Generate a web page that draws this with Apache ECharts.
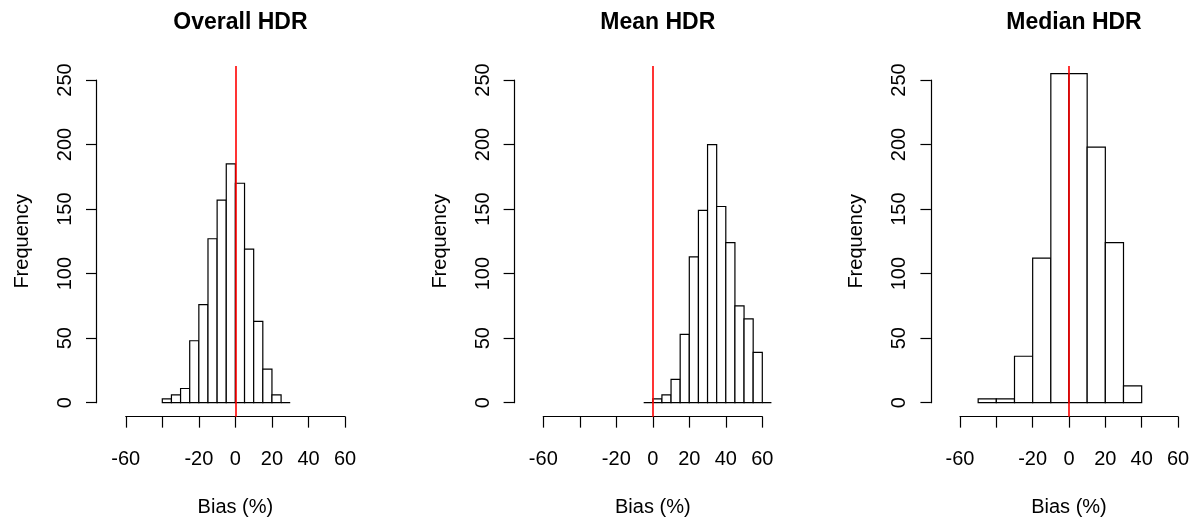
<!DOCTYPE html>
<html>
<head>
<meta charset="utf-8">
<script src="https://cdn.jsdelivr.net/npm/echarts@6/dist/echarts.min.js"></script>
<style>
  html, body { margin: 0; padding: 0; background: #ffffff; }
  #chart { width: 1196px; height: 521px; }
</style>
</head>
<body>
<div id="chart"></div>
<script>
// Histogram bins: lower edge of each bin, bin width and count per bin
const overallBinStarts = [-40, -35, -30, -25, -20, -15, -10, -5, 0, 5, 10, 15, 20, 25];
const overallCounts    = [3, 6, 11, 48, 76, 127, 157, 185, 170, 119, 63, 26, 6, 0];
const overallBinWidth  = 5;

const meanBinStarts = [-5, 0, 5, 10, 15, 20, 25, 30, 35, 40, 45, 50, 55, 60];
const meanCounts    = [0, 3, 6, 18, 53, 113, 149, 200, 152, 124, 75, 65, 39, 0];
const meanBinWidth  = 5;

const medianBinStarts = [-50, -40, -30, -20, -10, 0, 10, 20, 30];
const medianCounts    = [3, 3, 36, 112, 255, 255, 198, 124, 13];
const medianBinWidth  = 10;

const panelTitles = ['Overall HDR', 'Mean HDR', 'Median HDR'];
const xAxisTitle = 'Bias (%)';
const yAxisTitle = 'Frequency';
const xTickValues = [-60, -40, -20, 0, 20, 40, 60];
const xTickLabels = ['-60', '', '-20', '0', '20', '40', '60']; // -40 left out, too crowded
const yTickValues = [0, 50, 100, 150, 200, 250];
const referenceBias = 0;

// ---- layout (pixels) ----
const FONT = 'Liberation Sans, Arial, Helvetica, sans-serif';
const panelLayout = [
  { zeroX: 235.4, unit: 1.8275 },
  { zeroX: 652.8, unit: 1.825 },
  { zeroX: 1069.0, unit: 1.8167 }
];
const yZero = 402.7;     // pixel row of count 0
const yUnit = 1.2908;    // pixels per count
const plotXMin = -76, plotXMax = 66;
const plotYMin = -10.8, plotYMax = 260.8;

const panelData = [
  { starts: overallBinStarts, counts: overallCounts, width: overallBinWidth },
  { starts: meanBinStarts, counts: meanCounts, width: meanBinWidth },
  { starts: medianBinStarts, counts: medianCounts, width: medianBinWidth }
];

const grid = [], xAxis = [], yAxis = [], series = [], title = [];
const axisLineStyle = { color: '#000', width: 1.2 };
const labelStyle = { color: '#000', fontFamily: FONT, fontSize: 20 };

panelLayout.forEach((p, i) => {
  const plotLeft = p.zeroX + plotXMin * p.unit;
  const plotTop = yZero - plotYMax * yUnit;
  const plotBottom = yZero - plotYMin * yUnit;

  // plot region: bars and reference line
  const gA = grid.length;
  grid.push({ left: plotLeft, top: plotTop, width: (plotXMax - plotXMin) * p.unit,
              height: plotBottom - plotTop, containLabel: false, outerBoundsMode: 'none' });
  xAxis.push({ gridIndex: gA, type: 'value', min: plotXMin, max: plotXMax, show: false });
  yAxis.push({ gridIndex: gA, type: 'value', min: plotYMin, max: plotYMax, show: false });

  // bottom axis spanning the tick range
  const gB = grid.length;
  const axisTop = 300;
  grid.push({ left: p.zeroX + xTickValues[0] * p.unit,
              width: (xTickValues[xTickValues.length - 1] - xTickValues[0]) * p.unit,
              top: axisTop, height: plotBottom - axisTop, outerBoundsMode: 'none' });
  xAxis.push({
    gridIndex: gB, type: 'value', min: xTickValues[0], max: xTickValues[xTickValues.length - 1],
    interval: 20,
    axisLine: { show: true, onZero: false, lineStyle: axisLineStyle },
    axisTick: { show: true, inside: false, length: 11, lineStyle: axisLineStyle },
    axisLabel: {
      show: true, margin: 33, ...labelStyle,
      formatter: v => xTickLabels[xTickValues.indexOf(v)] ?? ''
    },
    splitLine: { show: false },
    name: xAxisTitle, nameLocation: 'middle', nameGap: 81,
    nameTextStyle: labelStyle
  });
  yAxis.push({ gridIndex: gB, type: 'value', min: 0, max: 1, show: false });

  // left axis spanning 0..250
  const gC = grid.length;
  const yTop = yZero - yTickValues[yTickValues.length - 1] * yUnit;
  grid.push({ left: plotLeft, width: 20, top: yTop, height: yZero - yTop, outerBoundsMode: 'none' });
  xAxis.push({ gridIndex: gC, type: 'value', min: 0, max: 1, show: false });
  yAxis.push({
    gridIndex: gC, type: 'value', min: yTickValues[0], max: yTickValues[yTickValues.length - 1],
    interval: 50,
    axisLine: { show: true, onZero: false, lineStyle: axisLineStyle },
    axisTick: { show: true, inside: false, length: 10.5, lineStyle: axisLineStyle },
    axisLabel: { show: true, rotate: 90, margin: 21, ...labelStyle },
    splitLine: { show: false },
    name: yAxisTitle, nameLocation: 'middle', nameGap: 64,
    nameTextStyle: labelStyle
  });

  const d = panelData[i];
  series.push({
    type: 'custom',
    xAxisIndex: gA, yAxisIndex: gA,
    silent: true,
    animation: false,
    data: d.starts.map((s, k) => [s, s + d.width, d.counts[k]]),
    encode: { x: [0, 1], y: 2 },
    renderItem: (params, api) => {
      const topLeft = api.coord([api.value(0), api.value(2)]);
      const bottomRight = api.coord([api.value(1), 0]);
      return {
        type: 'rect',
        shape: { x: topLeft[0], y: topLeft[1],
                 width: bottomRight[0] - topLeft[0], height: bottomRight[1] - topLeft[1] },
        style: { fill: '#ffffff', stroke: '#000000', lineWidth: 1.2 }
      };
    }
  });
  series.push({
    type: 'line',
    xAxisIndex: gA, yAxisIndex: gA,
    data: [],
    silent: true,
    animation: false,
    z: 5,
    markLine: {
      silent: true, animation: false,
      symbol: ['none', 'none'],
      label: { show: false },
      lineStyle: { color: '#ff0000', width: 1.6, type: 'solid' },
      data: [{ xAxis: referenceBias }]
    }
  });

  title.push({
    text: panelTitles[i],
    left: p.zeroX, top: 6, textAlign: 'center',
    textStyle: { fontFamily: FONT, fontSize: 23, fontWeight: 'bold', color: '#000' }
  });
});

const chart = echarts.init(document.getElementById('chart'), null, { renderer: 'canvas' });
chart.setOption({
  animation: false,
  backgroundColor: '#ffffff',
  title, grid, xAxis, yAxis, series
});
</script>
</body>
</html>
